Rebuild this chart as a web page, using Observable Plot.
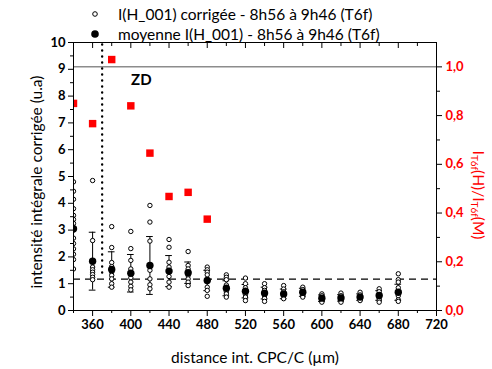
<!DOCTYPE html>
<html><head><meta charset="utf-8">
<script src="https://cdn.jsdelivr.net/npm/d3@7"></script>
<script src="https://cdn.jsdelivr.net/npm/@observablehq/plot@0.6"></script>
<style>
body{margin:0;background:#fff;}
#chart svg{font-family:Lato,"DejaVu Sans",sans-serif;overflow:visible;}
</style>
</head><body><div id="chart"></div>
<script>
// ---- data ----
const distances = [340,360,380,400,420,440,460,480,500,520,540,560,580,600,620,640,660,680];
const meanValues = [3.05,1.84,1.53,1.39,1.68,1.47,1.41,1.12,0.83,0.72,0.65,0.62,0.68,0.46,0.47,0.50,0.56,0.68];
const meanSd = [null,1.08,0.66,0.70,1.08,0.58,0.40,0.38,0.28,0.25,0.22,0.18,0.15,0.12,0.12,0.12,0.18,0.30];
const individualValues = [
  [4.8,4.45,4.15,3.8,3.55,3.4,3.25,3.0,2.7,2.5,2.3,2.1,1.9,1.55],
  [4.85,2.61,1.62,1.52,1.43,1.34,1.24,1.15],
  [3.13,2.35,1.79,1.64,1.43,1.31,1.18,1.0,0.87],
  [2.95,2.31,1.87,1.55,1.22,1.06,0.90,0.77],
  [3.92,3.30,2.59,1.5,1.18,0.96,0.81],
  [2.65,2.36,1.80,1.62,1.27,1.06,0.87],
  [2.20,1.68,1.55,1.31,1.18,1.06,0.93],
  [1.62,1.52,1.43,1.33,0.87,0.75,0.53],
  [1.33,1.24,1.15,0.95,0.70,0.62,0.50],
  [1.21,1.0,0.85,0.60,0.50,0.37],
  [1.0,0.85,0.75,0.55,0.45,0.34],
  [0.93,0.80,0.70,0.55,0.44],
  [0.87,0.78,0.60,0.55,0.50],
  [0.62,0.55,0.40,0.35,0.31],
  [0.65,0.55,0.42,0.36,0.31],
  [0.68,0.58,0.45,0.40,0.37],
  [0.81,0.70,0.45,0.38,0.31],
  [1.37,1.15,1.06,0.85,0.55,0.40,0.34]
];
const ratioDistances = [340,360,380,400,420,440,460,480];
const ratioValues = [0.85,0.767,1.03,0.84,0.646,0.468,0.485,0.375];
const leftTicks = [0,1,2,3,4,5,6,7,8,9,10];
const rightTicks = [0,0.2,0.4,0.6,0.8,1.0];
const xTicks = [360,400,440,480,520,560,600,640,680,720];
const dashedLevel = 1.17;
const zdBoundary = 370;
const zdLabel = "ZD";
const legendLabels = ["I(H_001) corrigée - 8h56 à 9h46 (T6f)", "moyenne I(H_001) - 8h56 à 9h46 (T6f)"];
const xLabel = "distance int. CPC/C (\u00b5m)";
const yLabel = "intensité intégrale corrigée (u.a)";
const rightMax = 1.1;

// ---- derived ----
const toLeft = r => r * 10 / rightMax;
const indiv = distances.flatMap((d, i) => individualValues[i].map(v => ({x: d, y: v})));
const means = distances.map((d, i) => ({x: d, y: meanValues[i], sd: meanSd[i]}));
const errs = means.filter(d => d.sd != null);
const ratios = ratioDistances.map((d, i) => ({x: d, r: ratioValues[i]}));
const fmtComma = v => v.toFixed(1).replace(".", ",");

const plot = Plot.plot({
  width: 492, height: 369,
  marginLeft: 73, marginRight: 56, marginTop: 42, marginBottom: 59,
  x: {domain: [340, 720]},
  y: {domain: [0, 10]},
  style: {fontFamily: "Lato", fontSize: "13px", color: "black", background: "white"},
  marks: [
    Plot.ruleY([toLeft(1.0)], {stroke: "#8c8c8c", strokeWidth: 1.5}),
    Plot.ruleY([dashedLevel], {stroke: "black", strokeWidth: 1.4, strokeDasharray: "7,5"}),
    Plot.ruleX([zdBoundary], {y1: 1.4, y2: 10, stroke: "black", strokeWidth: 2.4, strokeDasharray: "0.1,5.9", strokeLinecap: "round"}),
    Plot.text([zdLabel], {x: 411, y: 8.6, fontSize: 15, fontWeight: "bold", fill: "black"}),
    Plot.ruleX(errs, {x: "x", y1: d => d.y - d.sd, y2: d => d.y + d.sd, stroke: "black", strokeWidth: 1}),
    Plot.ruleY(errs, {y: d => d.y + d.sd, x1: d => d.x - 3.5, x2: d => d.x + 3.5, stroke: "black", strokeWidth: 1}),
    Plot.ruleY(errs, {y: d => d.y - d.sd, x1: d => d.x - 3.5, x2: d => d.x + 3.5, stroke: "black", strokeWidth: 1}),
    Plot.dot(indiv, {x: "x", y: "y", r: 2.2, stroke: "black", fill: "white", strokeWidth: 1, clip: true}),
    Plot.dot(means, {x: "x", y: "y", r: 3.7, fill: "black", clip: true}),
    Plot.dot(ratios, {x: "x", y: d => toLeft(d.r), symbol: "square", r: 4.2, fill: "#ff0000", clip: true}),
    Plot.frame({stroke: "black", strokeWidth: 1}),
    // bottom x axis
    Plot.axisX(xTicks, {anchor: "bottom", tickSize: 6, tickPadding: 3, fontWeight: "bold", fontSize: 13, label: null}),
    Plot.axisX(d3.range(340, 720, 40), {anchor: "bottom", tickSize: 3, text: null, label: null}),
    // top inward ticks
    Plot.axisX(xTicks, {anchor: "top", tickSize: -5, text: null, label: null}),
    Plot.axisX(d3.range(340, 720, 40), {anchor: "top", tickSize: -3, text: null, label: null}),
    // left axis
    Plot.axisY(leftTicks, {anchor: "left", tickSize: 5, tickPadding: 3, fontWeight: "bold", fontSize: 13, label: null}),
    Plot.axisY(d3.range(0.5, 10, 1), {anchor: "left", tickSize: 3, text: null, label: null}),
    // right axis (ratio)
    Plot.axisY(rightTicks.map(toLeft), {anchor: "right", tickSize: 5, tickPadding: 4, fontWeight: "bold", fontSize: 13, fill: "#ff0000", stroke: "black", tickFormat: d => fmtComma(d * rightMax / 10), label: null}),
    Plot.axisY([0.1,0.3,0.5,0.7,0.9].map(toLeft), {anchor: "right", tickSize: 3, text: null, label: null})
  ]
});

document.getElementById("chart").appendChild(plot);
const svg = d3.select(plot);

// axis titles
svg.append("text").attr("transform", "translate(36,182) rotate(-90)")
  .attr("text-anchor", "middle").attr("dominant-baseline", "central")
  .style("font-size", "15.5px").attr("fill", "black").text(yLabel);
svg.append("text").attr("x", 255).attr("y", 357)
  .attr("text-anchor", "middle").attr("dominant-baseline", "central")
  .style("font-size", "15.5px").attr("fill", "black").text(xLabel);

// right title with subscripts
const rt = svg.append("text").attr("transform", "translate(479,195) rotate(90)")
  .attr("text-anchor", "middle").attr("dominant-baseline", "central")
  .style("font-size", "15.5px").attr("fill", "#ff0000");
rt.append("tspan").text("I");
rt.append("tspan").attr("dy", 4).style("font-size", "10px").text("T6f");
rt.append("tspan").attr("dy", -4).text("(H)/I");
rt.append("tspan").attr("dy", 4).style("font-size", "10px").text("T6f");
rt.append("tspan").attr("dy", -4).text("(M)");

// legend
const leg = svg.append("g");
leg.append("circle").attr("cx", 95).attr("cy", 14).attr("r", 2.3).attr("fill", "white").attr("stroke", "black");
leg.append("circle").attr("cx", 95).attr("cy", 34).attr("r", 3.8).attr("fill", "black");
legendLabels.forEach((t, i) => {
  leg.append("text").attr("x", 118).attr("y", 14 + 20 * i).attr("dominant-baseline", "central")
    .attr("text-anchor", "start")
    .style("font-size", "15.5px").attr("fill", "black").text(t);
});
</script>
</body></html>
